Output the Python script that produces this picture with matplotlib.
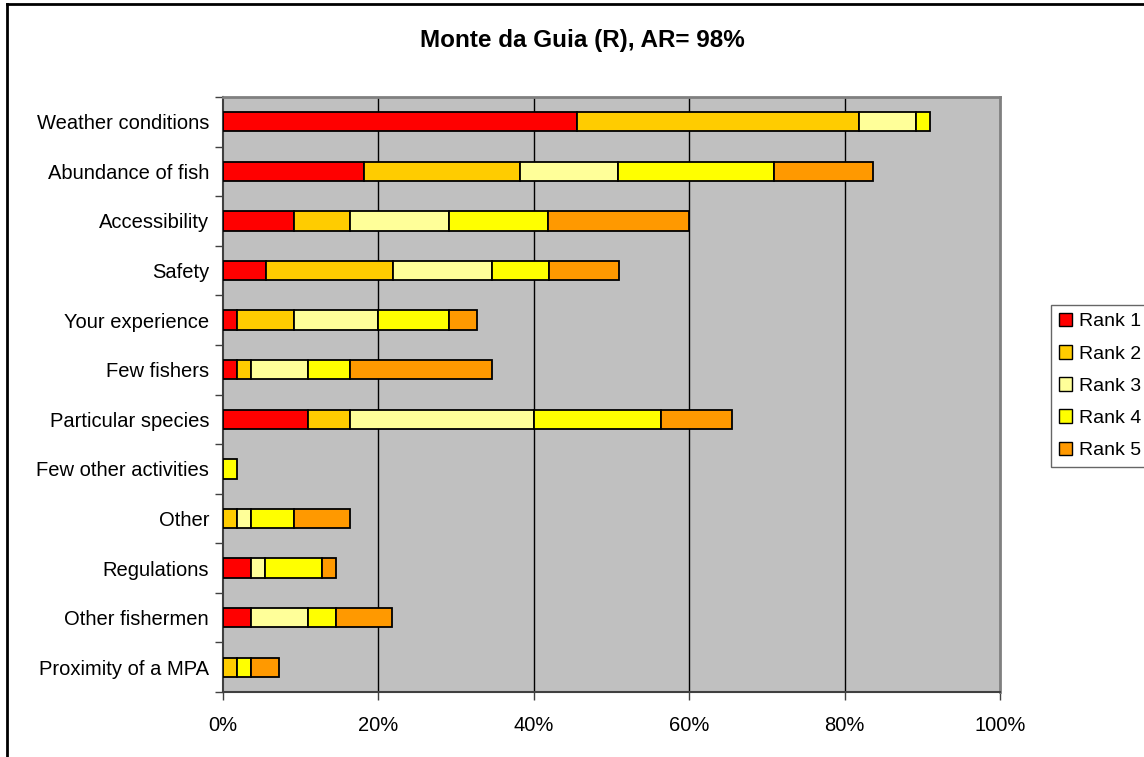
import matplotlib
matplotlib.use("Agg")
import matplotlib.pyplot as plt
from matplotlib.patches import Patch
from matplotlib.lines import Line2D
import numpy as np

plt.rcParams['font.family'] = ['Liberation Sans', 'DejaVu Sans']

categories = ["Weather conditions", "Abundance of fish", "Accessibility", "Safety",
              "Your experience", "Few fishers", "Particular species",
              "Few other activities", "Other", "Regulations", "Other fishermen",
              "Proximity of a MPA"]
series_names = ["Rank 1", "Rank 2", "Rank 3", "Rank 4", "Rank 5"]
rank1 = [45.5, 18.2, 9.1, 5.5, 1.8, 1.8, 10.9, 0.0, 0.0, 3.6, 3.6, 0.0]
rank2 = [36.4, 20.0, 7.3, 16.4, 7.3, 1.8, 5.5, 0.0, 1.8, 0.0, 0.0, 1.8]
rank3 = [7.3, 12.7, 12.7, 12.7, 10.9, 7.3, 23.6, 0.0, 1.8, 1.8, 7.3, 0.0]
rank4 = [1.8, 20.0, 12.7, 7.3, 9.1, 5.5, 16.4, 1.8, 5.5, 7.3, 3.6, 1.8]
rank5 = [0.0, 12.7, 18.2, 9.1, 3.6, 18.2, 9.1, 0.0, 7.3, 1.8, 7.3, 3.6]
colors = ["#FF0000", "#FFCC00", "#FFFF99", "#FFFF00", "#FF9900"]
xticks = [0, 20, 40, 60, 80, 100]
xticklabels = ["0%", "20%", "40%", "60%", "80%", "100%"]
title = "Monte da Guia (R), AR= 98%"

W, H = 1144, 757
fig = plt.figure(figsize=(W / 100, H / 100), dpi=100)
fig.patch.set_facecolor("white")

# plot area
L, R, T, B = 223, 1000, 97, 692
ax = fig.add_axes([L / W, 1 - B / H, (R - L) / W, (B - T) / H])
ax.set_facecolor("#C0C0C0")

y = np.arange(len(categories))
left = np.zeros(len(categories))
for vals, c, name in zip([rank1, rank2, rank3, rank4, rank5], colors, series_names):
    v = np.array(vals)
    mask = v > 0
    ax.barh(y[mask], v[mask], left=left[mask], height=0.39, color=c,
            edgecolor="black", linewidth=1.3, zorder=3)
    left += v

ax.set_xlim(0, 100)
ax.set_ylim(len(categories) - 0.5, -0.5)

for gx in xticks[1:-1]:
    ax.axvline(gx, color="black", linewidth=1.0, zorder=1)

ax.set_xticks(xticks)
ax.set_xticklabels(xticklabels, fontsize=14.5)
ax.tick_params(axis="x", direction="out", length=6, width=1, color="#404040", pad=11)

ax.set_yticks(y)
ax.set_yticklabels(categories, fontsize=14.5)
ax.tick_params(axis="y", which="major", length=0, pad=10)
ax.set_yticks(np.arange(-0.5, len(categories), 1.0), minor=True)
ax.tick_params(axis="y", which="minor", direction="out", length=6, width=1, color="#404040")

for s in ["top", "right"]:
    ax.spines[s].set_color("#808080")
    ax.spines[s].set_linewidth(2)
for s in ["left", "bottom"]:
    ax.spines[s].set_color("#404040")
    ax.spines[s].set_linewidth(1.5)

fig.text(582 / W, 1 - 40 / H, title, ha="center", va="center",
         fontsize=17.5, fontweight="bold")

handles = [Patch(facecolor=c, edgecolor="black", linewidth=1.0) for c in colors]
leg = fig.legend(handles, series_names, loc="upper left",
                 bbox_to_anchor=(1051 / W, 1 - 305 / H), fontsize=14,
                 frameon=True, fancybox=False, shadow=False,
                 handlelength=0.7, handleheight=0.7, handletextpad=0.35,
                 labelspacing=0.75, borderpad=0.4, borderaxespad=0)
leg.get_frame().set_edgecolor("#404040")
leg.get_frame().set_linewidth(1.0)

# chart border (left and top visible)
fig.add_artist(Line2D([7 / W, 7 / W], [0, 1 - 4 / H], color="black", linewidth=2,
                      transform=fig.transFigure))
fig.add_artist(Line2D([7 / W, 1], [1 - 4 / H, 1 - 4 / H], color="black", linewidth=2,
                      transform=fig.transFigure))

fig.savefig("out.png", dpi=100)
